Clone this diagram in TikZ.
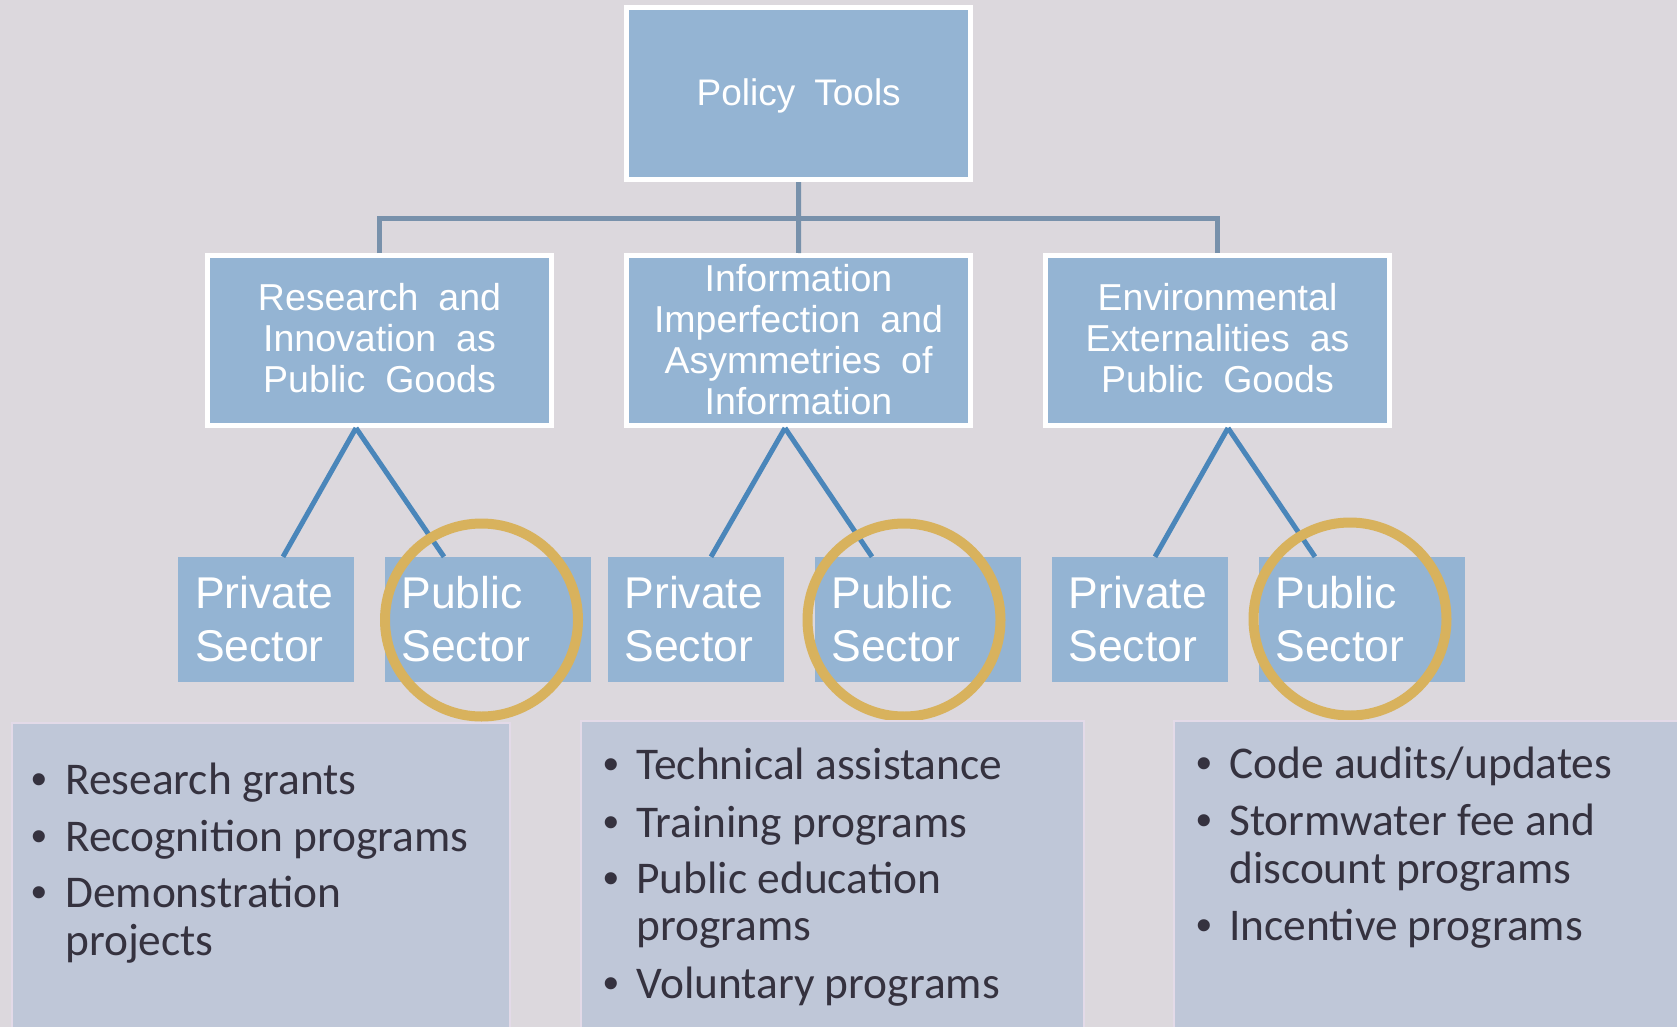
\documentclass[tikz,border=0pt]{standalone}
\usepackage{fontspec}
\setmainfont{Carlito}
\newfontfamily\hdfont{Liberation Sans}
\newfontfamily\secfont{Liberation Sans}
\newfontfamily\bulfont{Liberation Sans}
\newcommand\hdwide{\spaceskip 20pt\relax}
\newcommand\ptwide{\spaceskip 19pt\relax}
\definecolor{bgc}{HTML}{DCD8DD}
\definecolor{topfill}{HTML}{94B4D3}
\definecolor{elbowc}{HTML}{7891AB}
\definecolor{treec}{HTML}{4A86BA}
\definecolor{ringc}{HTML}{D8B25D}
\definecolor{botfill}{HTML}{BFC7D8}
\definecolor{botedge}{HTML}{E3DAE8}
\definecolor{darktext}{HTML}{35323F}
\begin{document}
\begin{tikzpicture}[x=1pt,y=-1pt,
  topbox/.style={draw=white, line width=5pt, fill=topfill, minimum width=344pt,
    minimum height=171pt, inner sep=0pt, text=white, align=center,
    font={\hdfont\fontsize{37.5}{41}\selectfont\hdwide}},
  secbox/.style={fill=topfill, inner xsep=17pt, inner ysep=0pt, minimum height=125pt,
    text=white, align=left, font=\secfont\fontsize{44.5}{53}\selectfont},
  privbox/.style={secbox, text width=142pt},
  pubbox/.style={secbox, text width=172pt},
  ring/.style={circle, draw=ringc, line width=10pt, minimum size=193pt, inner sep=0pt},
  elbow/.style={draw=elbowc, line width=5pt},
  tree/.style={draw=treec, line width=5pt},
  botbox/.style={fill=botfill, draw=botedge, line width=1.5pt, anchor=north west, inner sep=0pt},
  btxt/.style={anchor=base west, inner sep=0pt, text=darktext, font=\fontsize{45.4}{50}\selectfont},
  bul/.style={anchor=base, inner sep=0pt, text=darktext, font=\bulfont\fontsize{44.5}{50}\selectfont}
]
\useasboundingbox (0,0) rectangle (1677,1027);
\fill[bgc] (0,0) rectangle (1677,1027);

% top level
\node[topbox, minimum height=172pt, text depth=4pt, font={\hdfont\fontsize{37}{41}\selectfont\ptwide}] (PT) at (798.7,93.7) {Policy Tools};
\node[topbox, minimum height=170pt, text depth=6pt] (L1) at (379.5,340.5) {Research and\\Innovation as\\Public Goods};
\node[topbox, minimum height=170pt, text depth=3pt] (L2) at (798.5,340.5) {Information\\Imperfection and\\Asymmetries of\\Information};
\node[topbox, minimum height=170pt, text depth=6pt] (L3) at (1217.5,340.5) {Environmental\\Externalities as\\Public Goods};

\coordinate (bus) at (798.5,218);
\draw[elbow] (PT.south) -- (L2.north);
\draw[elbow] (L1.north) -- (L1.north |- bus) -- (L3.north |- bus) -- (L3.north);

% sector boxes
\node[privbox] (pv1) at (266,619.5) {Private\\Sector};
\node[pubbox] (pb1) at (487.5,619.5) {Public\\Sector};
\node[privbox] (pv2) at (695.5,619.5) {Private\\Sector};
\node[pubbox] (pb2) at (917.5,619.5) {Public\\Sector};
\node[privbox] (pv3) at (1139.5,619.5) {Private\\Sector};
\node[pubbox] (pb3) at (1361.5,619.5) {Public\\Sector};

\draw[tree] ([xshift=-23.5pt]L1.south) -- ([xshift=17pt]pv1.north);
\draw[tree] ([xshift=-23.5pt]L1.south) -- ([xshift=-43.5pt]pb1.north);
\draw[tree] ([xshift=-13.5pt]L2.south) -- ([xshift=15.5pt]pv2.north);
\draw[tree] ([xshift=-13.5pt]L2.south) -- ([xshift=-45.5pt]pb2.north);
\draw[tree] ([xshift=10.5pt]L3.south) -- ([xshift=15.5pt]pv3.north);
\draw[tree] ([xshift=10.5pt]L3.south) -- ([xshift=-46.5pt]pb3.north);

\node[ring] (c1) at (481.5,620) {};
\node[ring] (c2) at (904,620) {};
\node[ring] (c3) at (1350,619) {};

% bottom boxes
\node[botbox, minimum width=498pt, minimum height=312pt] (B1) at (11,722) {};
\node[botbox, minimum width=503pt, minimum height=312pt] (B2) at (580,720) {};
\node[botbox, minimum width=510pt, minimum height=312pt] (B3) at (1173,720) {};

% box 1 text
\node[bul] (b11) at (39,794) {•};
\node[btxt] (t11) at (65,794) {Research grants};
\node[bul] (b12) at (39,851) {•};
\node[btxt] (t12) at (65,851) {Recognition programs};
\node[bul] (b13) at (39,907) {•};
\node[btxt] (t13) at (65,907) {Demonstration};
\node[btxt] (t14) at (65,955) {projects};

% box 2 text
\node[bul] (b21) at (611,779) {•};
\node[btxt] (t21) at (636,779) {Technical assistance};
\node[bul] (b22) at (611,837) {•};
\node[btxt] (t22) at (636,837) {Training programs};
\node[bul] (b23) at (611,893) {•};
\node[btxt] (t23) at (636,893) {Public education};
\node[btxt] (t24) at (636,940) {programs};
\node[bul] (b25) at (611,998) {•};
\node[btxt] (t25) at (636,998) {Voluntary programs};

% box 3 text
\node[bul] (b31) at (1204,778) {•};
\node[btxt] (t31) at (1229,778) {Code audits/updates};
\node[bul] (b32) at (1204,835) {•};
\node[btxt] (t32) at (1229,835) {Stormwater fee and};
\node[btxt] (t33) at (1229,883) {discount programs};
\node[bul] (b34) at (1204,940) {•};
\node[btxt] (t34) at (1229,940) {Incentive programs};
\end{tikzpicture}
\end{document}
